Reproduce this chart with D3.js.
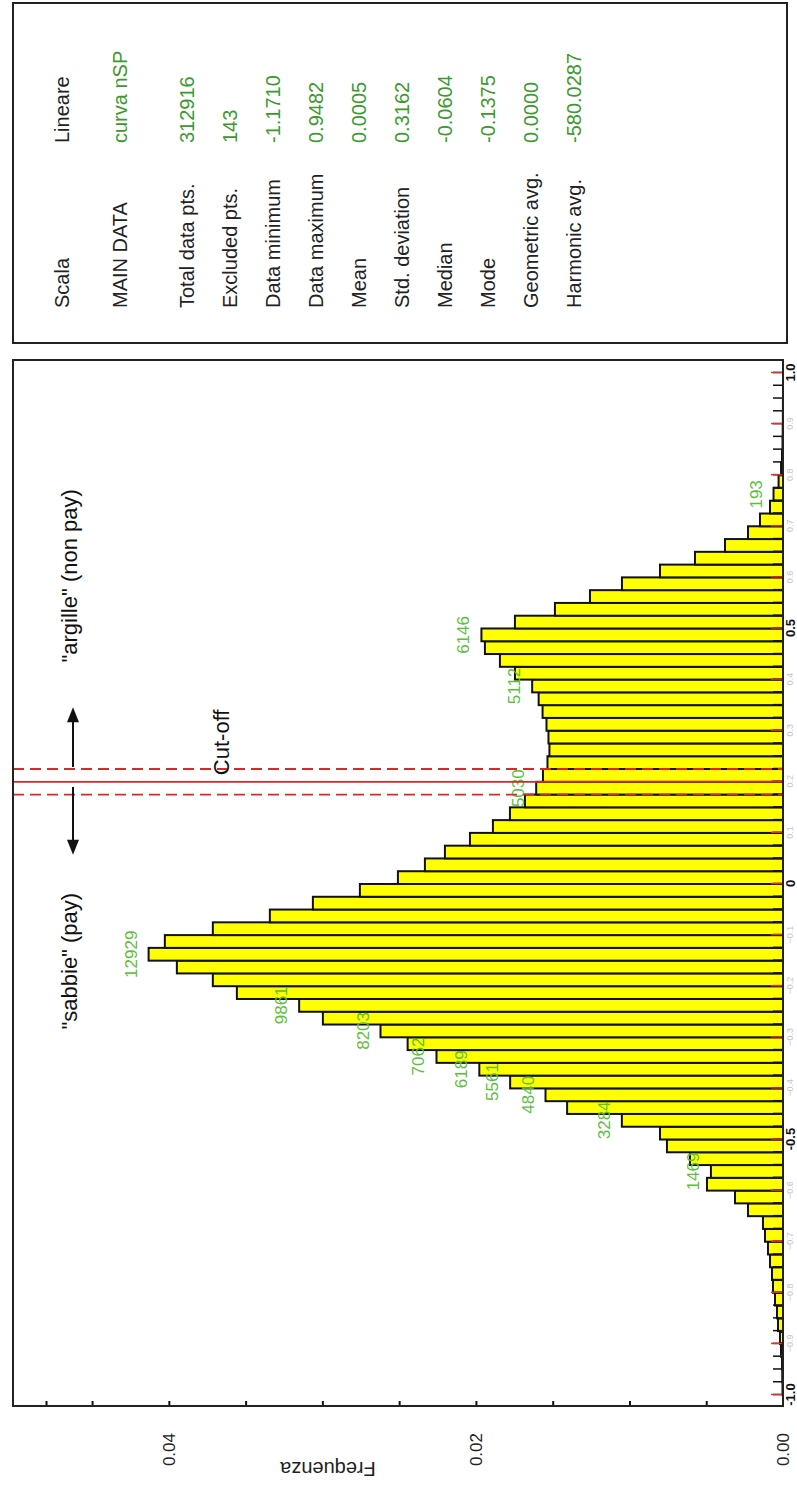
<!DOCTYPE html>
<html>
<head>
<meta charset="utf-8">
<script src="https://cdn.jsdelivr.net/npm/d3@7"></script>
<style>
  html, body { margin: 0; padding: 0; background: #fff; }
  svg { display: block; font-family: "Liberation Sans", Arial, sans-serif; }
</style>
</head>
<body>
<svg id="chart" width="797" height="1488"></svg>
<script>
// ---- data -------------------------------------------------------------
// Histogram of "curva nSP": 80 bins of width 0.025 from -1.0 to 1.0 (counts per bin)
const binStart = -1.0;
const binWidth = 0.025;
const binCounts = [
     10,    15,    20,    41,    61,   102,   122,   163,   204,   224,
    265,   306,   367,   408,   713,   978,  1549,  1469,  1896,  2365,
   2507,  3284,  4400,  4840,  5561,  6189,  7062,  7650,  8203,  9377,
   9861, 11130, 11620, 12353, 12929, 12598, 11620, 10458,  9581,  8623,
   7848,  7298,  6890,  6380,  5912,  5565,  5259,  5030,  4892,  4800,
   4760,  4780,  4820,  4900,  4980,  5112,  5463,  5769,  6075,  6146,
   5463,  4648,  3934,  3282,  2507,  1794,  1182,   713,   469,   265,
    193,    90,    40,    20,    10,     6,     3,     2,     0,     0
];
const totalPoints = 312916;
// bins that carry their count as a label
const labelledBins = [17, 21, 23, 24, 25, 26, 28, 30, 34, 47, 55, 59, 70];

// frequency axis
const freqTicks = [0.005, 0.01, 0.015, 0.02, 0.025, 0.03, 0.035, 0.04, 0.045, 0.048];
const freqLabelTicks = [0, 0.02, 0.04];

// value axis
const valueMajorTicks = d3.range(-10, 11).map(k => k / 10);
const valueMinorTicks = d3.range(-40, 41).map(k => k / 40);
const valueMainLabels = [-1, -0.5, 0, 0.5, 1];
const valueMainLabelText = ["-1.0", "-0.5", "0", "0.5", "1.0"];

// cut-off between sands and clays
const cutoffValue = 0.2;
const cutoffBand = [0.175, 0.225];
const arrowSpans = [[0.19, 0.057], [0.229, 0.346]];
const zoneLabels = ['"sabbie" (pay)', '"argille" (non pay)'];
const zoneLabelCenters = [-0.151, 0.603];
const cutoffLabel = "Cut-off";
const cutoffLabelStart = 0.213;

// summary table
const statNames = ["Scala", "MAIN DATA", "Total data pts.", "Excluded pts.", "Data minimum",
  "Data maximum", "Mean", "Std. deviation", "Median", "Mode", "Geometric avg.", "Harmonic avg."];
const statValues = ["Lineare", "curva nSP", "312916", "143", "-1.1710",
  "0.9482", "0.0005", "0.3162", "-0.0604", "-0.1375", "0.0000", "-580.0287"];

// ---- drawing ----------------------------------------------------------
const W = 1488, H = 797;                 // landscape drawing, turned onto the portrait page
const svg = d3.select("#chart");
const g = svg.append("g").attr("transform", `translate(0,${W}) rotate(-90)`);

const plot = { left: 82, right: 1128, top: 13, bottom: 783 };
const x = d3.scaleLinear().domain([-1.0215, 1.0254]).range([plot.left, plot.right]);
const y = d3.scaleLinear().domain([0, 0.05015]).range([plot.bottom, plot.top]);

const bins = binCounts.map((c, i) => ({
  i, count: c,
  x0: binStart + i * binWidth,
  x1: binStart + (i + 1) * binWidth,
  f: c / totalPoints
}));

// bars
g.append("g").selectAll("rect")
  .data(bins.filter(d => d.count > 0))
  .join("rect")
  .attr("x", d => x(d.x0))
  .attr("width", d => x(d.x1) - x(d.x0))
  .attr("y", d => y(d.f))
  .attr("height", d => y(0) - y(d.f))
  .attr("fill", "#ffff00")
  .attr("stroke", "#111")
  .attr("stroke-width", 2);

// count labels
g.append("g").selectAll("text")
  .data(bins.filter(d => labelledBins.includes(d.i)))
  .join("text")
  .attr("x", d => x((d.x0 + d.x1) / 2))
  .attr("y", d => y(d.f) - 12)
  .attr("text-anchor", "middle")
  .attr("font-size", 17)
  .attr("fill", "#5cbf3c")
  .text(d => d.count);

// value axis: minor black ticks, major red ticks
const minorAxis = g.append("g").attr("transform", `translate(0,${plot.bottom})`)
  .call(d3.axisBottom(x).tickValues(valueMinorTicks).tickSizeInner(-10).tickSizeOuter(0).tickFormat(""));
minorAxis.select(".domain").remove();
minorAxis.selectAll("line").attr("stroke", "#111").attr("stroke-width", 1.5);

const majorAxis = g.append("g").attr("transform", `translate(0,${plot.bottom})`)
  .call(d3.axisBottom(x).tickValues(valueMajorTicks).tickSizeInner(-12).tickSizeOuter(0).tickFormat(""));
majorAxis.select(".domain").remove();
majorAxis.selectAll("line").attr("stroke", "#e03030").attr("stroke-width", 1.5);

// small grey labels on the tenths
const smallAxis = g.append("g").attr("transform", `translate(0,${plot.bottom})`)
  .call(d3.axisBottom(x)
    .tickValues(valueMajorTicks.filter(v => !valueMainLabels.some(m => Math.abs(m - v) < 1e-9)))
    .tickSize(0).tickPadding(4).tickFormat(d3.format(".1f")));
smallAxis.select(".domain").remove();
smallAxis.selectAll("text").attr("font-size", 9).attr("fill", "#c4c4c4").attr("font-family", null);

// main value labels
const mainAxis = g.append("g").attr("transform", `translate(0,${plot.bottom})`)
  .call(d3.axisBottom(x).tickValues(valueMainLabels).tickSize(0).tickPadding(3)
    .tickFormat((d, i) => valueMainLabelText[i]));
mainAxis.select(".domain").remove();
mainAxis.selectAll("text").attr("font-size", 13).attr("font-weight", "bold")
  .attr("fill", "#111").attr("font-family", null);

// frequency axis ticks (inside) and labels
const freqAxis = g.append("g").attr("transform", `translate(${plot.left},0)`)
  .call(d3.axisLeft(y).tickValues(freqTicks).tickSizeInner(-5).tickSizeOuter(0).tickFormat(""));
freqAxis.select(".domain").remove();
freqAxis.selectAll("line").attr("stroke", "#111").attr("stroke-width", 2);

const freqLabels = g.append("g").attr("transform", `translate(${plot.left},0)`)
  .call(d3.axisLeft(y).tickValues(freqLabelTicks).tickSize(0).tickPadding(27).tickFormat(d3.format(".2f")));
freqLabels.select(".domain").remove();
freqLabels.selectAll("text").attr("font-size", 17).attr("fill", "#222").attr("font-family", null);

g.append("text")
  .attr("transform", `translate(26,${(plot.top + plot.bottom) / 2 - 70}) rotate(-90)`)
  .attr("text-anchor", "middle")
  .attr("font-size", 20)
  .attr("fill", "#222")
  .text("Frequenza");

// cut-off lines
g.append("line")
  .attr("x1", x(cutoffValue)).attr("x2", x(cutoffValue))
  .attr("y1", plot.top).attr("y2", plot.bottom)
  .attr("stroke", "#d42a2a").attr("stroke-width", 1.8);
g.append("g").selectAll("line")
  .data(cutoffBand)
  .join("line")
  .attr("x1", d => x(d)).attr("x2", d => x(d))
  .attr("y1", plot.top).attr("y2", plot.bottom)
  .attr("stroke", "#d42a2a").attr("stroke-width", 1.8)
  .attr("stroke-dasharray", "11,6");

// arrows pointing to the two zones
const arrowY = 73;
arrowSpans.forEach(([from, to]) => {
  const x0 = x(from), x1 = x(to);
  const dir = Math.sign(x1 - x0);
  g.append("line")
    .attr("x1", x0).attr("x2", x1 - dir * 10)
    .attr("y1", arrowY).attr("y2", arrowY)
    .attr("stroke", "#111").attr("stroke-width", 2);
  g.append("path")
    .attr("d", `M${x1},${arrowY} L${x1 - dir * 15},${arrowY - 6} L${x1 - dir * 15},${arrowY + 6} Z`)
    .attr("fill", "#111");
});

g.append("g").selectAll("text")
  .data(zoneLabels)
  .join("text")
  .attr("x", (d, i) => x(zoneLabelCenters[i]))
  .attr("y", 77)
  .attr("text-anchor", "middle")
  .attr("font-size", 22)
  .attr("fill", "#111")
  .text(d => d);

g.append("text")
  .attr("x", x(cutoffLabelStart))
  .attr("y", 229)
  .attr("font-size", 22)
  .attr("fill", "#111")
  .text(cutoffLabel);

// plot frame
g.append("rect")
  .attr("x", plot.left).attr("y", plot.top)
  .attr("width", plot.right - plot.left).attr("height", plot.bottom - plot.top)
  .attr("fill", "none").attr("stroke", "#222").attr("stroke-width", 2);

// summary table
const box = { left: 1145, right: 1485, top: 13, bottom: 787 };
g.append("rect")
  .attr("x", box.left).attr("y", box.top)
  .attr("width", box.right - box.left).attr("height", box.bottom - box.top)
  .attr("fill", "none").attr("stroke", "#222").attr("stroke-width", 2);

const rowY = i => (i < 2 ? 62 + i * 58 : 187 + (i - 2) * 43) + 7;
const rows = g.append("g").selectAll("g")
  .data(statNames)
  .join("g");
rows.append("text")
  .attr("x", 1180).attr("y", (d, i) => rowY(i))
  .attr("font-size", 20).attr("fill", "#222")
  .text(d => d);
rows.append("text")
  .attr("x", 1345).attr("y", (d, i) => rowY(i))
  .attr("font-size", 20)
  .attr("fill", (d, i) => i === 0 ? "#222" : "#3a9a2e")
  .text((d, i) => statValues[i]);
</script>
</body>
</html>
